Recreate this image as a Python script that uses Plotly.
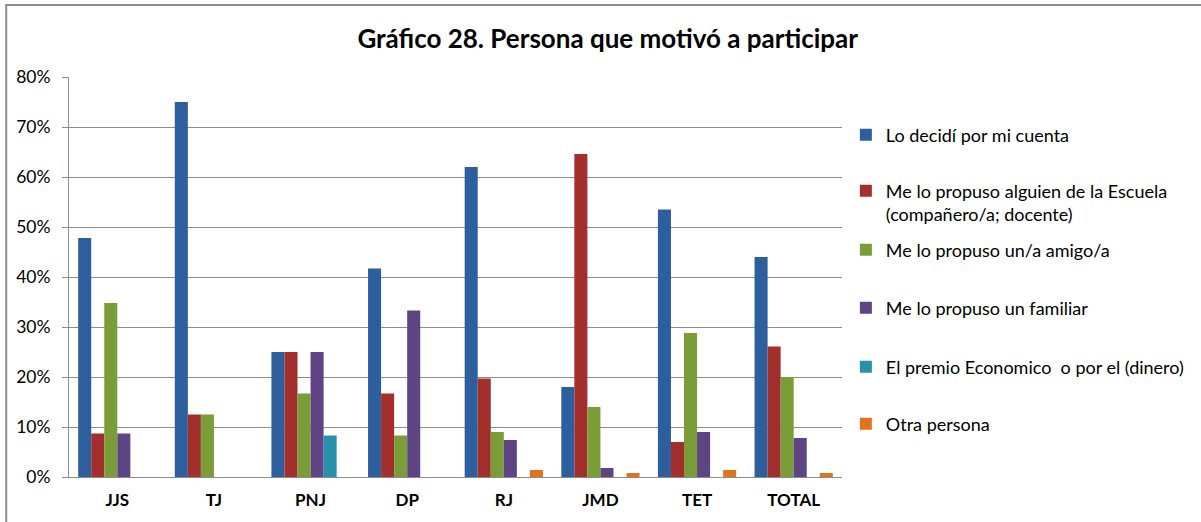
import plotly.graph_objects as go

categories = ["JJS", "TJ", "PNJ", "DP", "RJ", "JMD", "TET", "TOTAL"]

series_names = [
    "Lo decidí por mi cuenta",
    "Me lo propuso alguien de la Escuela<br>(compañero/a; docente)",
    "Me lo propuso un/a amigo/a",
    "Me lo propuso un familiar",
    "El premio Economico  o por el (dinero)",
    "Otra persona",
]

decidi = [47.8, 75.0, 25.0, 41.7, 62.0, 18.0, 53.5, 44.0]
escuela = [8.7, 12.5, 25.0, 16.7, 19.7, 64.6, 7.0, 26.1]
amigo = [34.8, 12.5, 16.7, 8.3, 9.0, 14.0, 28.8, 20.0]
familiar = [8.7, 0, 25.0, 33.3, 7.4, 1.8, 9.0, 7.8]
premio = [0, 0, 8.3, 0, 0, 0, 0, 0]
otra = [0, 0, 0, 0, 1.4, 0.8, 1.4, 0.8]

colors = ["#2D5F9F", "#A22F2C", "#7A9D38", "#5F4483", "#2790AB", "#E0741C"]

# one legend per series so each entry can sit where Excel put it
legend_ids = ["legend", "legend2", "legend3", "legend4", "legend5", "legend6"]
legend_y = [0.855, 0.686, 0.5675, 0.4225, 0.275, 0.1325]

fig = go.Figure()
for name, vals, col, lid in zip(series_names,
                                [decidi, escuela, amigo, familiar, premio, otra],
                                colors, legend_ids):
    fig.add_trace(go.Bar(
        x=categories, y=[v / 100 for v in vals], name=name,
        legend=lid,
        marker=dict(color=col, line=dict(width=0)),
    ))

legends = {}
for lid, ly in zip(legend_ids, legend_y):
    legends[lid] = dict(x=1.005, xanchor="left", y=ly, yanchor="middle",
                        itemwidth=30, font=dict(size=18), valign="top",
                        bgcolor="rgba(0,0,0,0)")

fig.update_layout(
    width=1201, height=522,
    paper_bgcolor="white", plot_bgcolor="white",
    font=dict(family="Lato, Open Sans, sans-serif", size=15, color="black"),
    title=dict(text="<b>Gráfico 28. Persona que motivó a participar</b>",
               x=0.506, xanchor="center", y=0.925, yanchor="middle",
               font=dict(size=26)),
    margin=dict(l=69, r=356, t=77, b=45),
    barmode="group", bargap=0.19, bargroupgap=0,
    showlegend=True,
    xaxis=dict(showline=True, linecolor="#8c8c8c", linewidth=1,
               ticks="", tickfont=dict(size=17),
               ticklabelstandoff=8, tickprefix="<b>", ticksuffix="</b>"),
    yaxis=dict(range=[0, 0.8], dtick=0.1, tickformat=".0%",
               showline=True, linecolor="#8c8c8c", linewidth=1,
               showgrid=True, gridcolor="#8c8c8c", gridwidth=1,
               ticks="outside", ticklen=6, tickcolor="#8c8c8c",
               ticklabelstandoff=8,
               zeroline=False, tickfont=dict(size=17.5)),
    shapes=[dict(type="rect", xref="paper", yref="paper",
                 x0=-0.0812, x1=1.6, y0=-0.2, y1=1.18,
                 line=dict(color="#8c8c8c", width=2))],
    **legends,
)

fig.write_html("out.html", config={"displayModeBar": False},
               post_script="document.body.style.margin='0';")
